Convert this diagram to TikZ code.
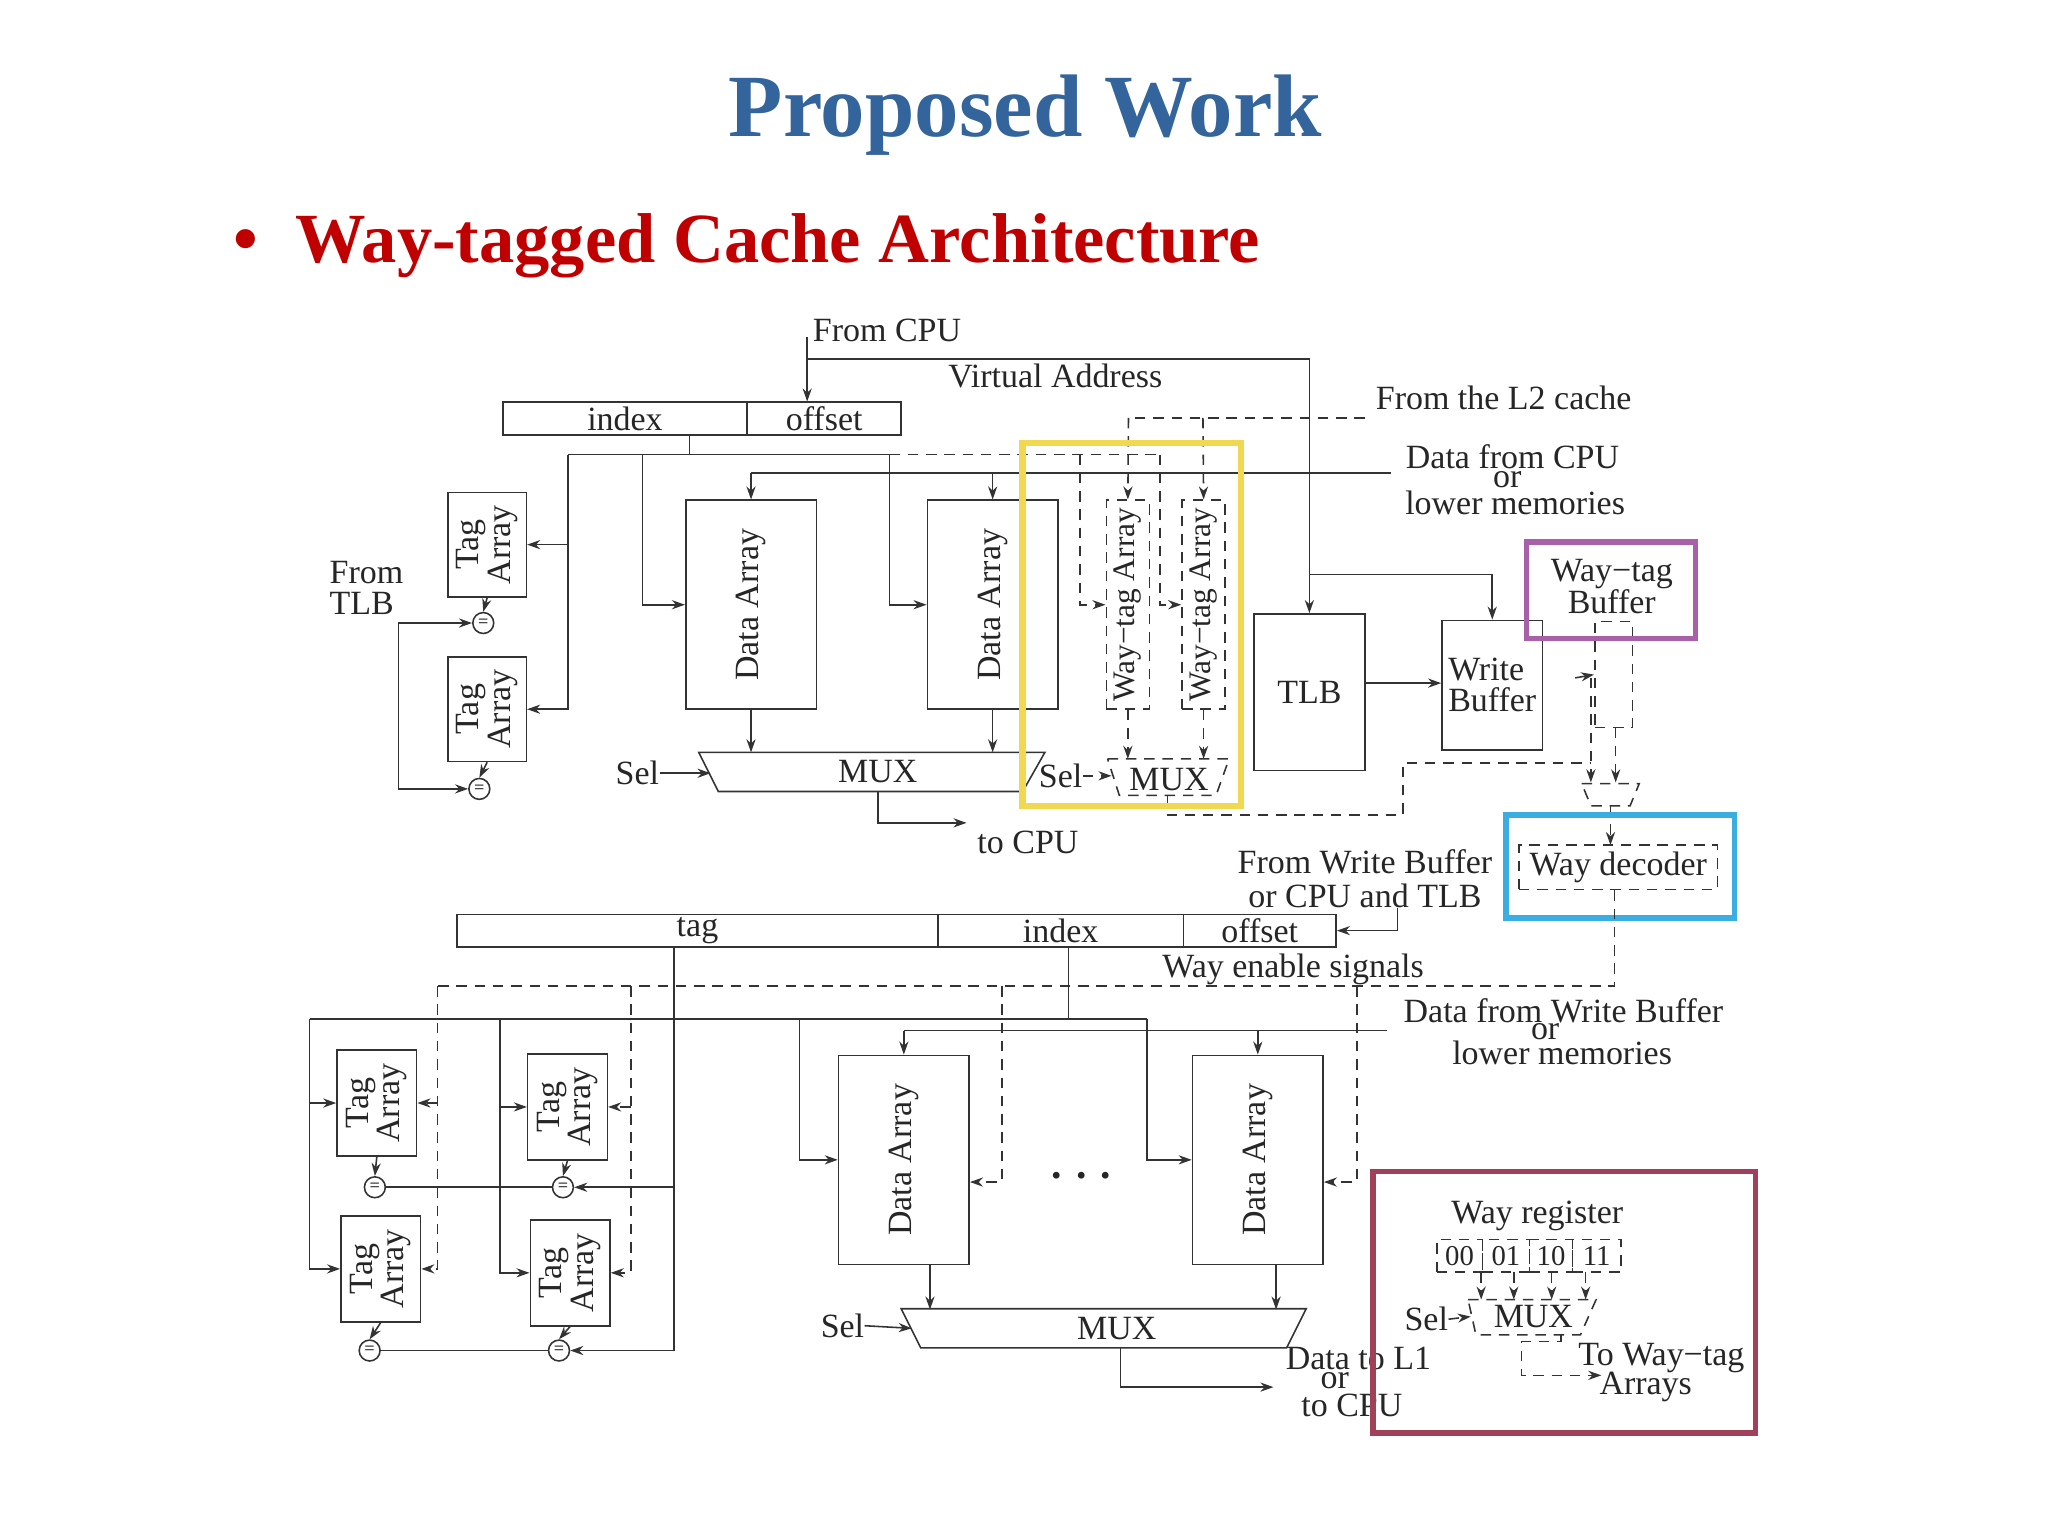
\documentclass[tikz,border=0pt]{standalone}
\usepackage{fontspec}
\setmainfont{Liberation Serif}
\usetikzlibrary{arrows.meta,fit}
\definecolor{ink}{HTML}{333333}
\definecolor{ttl}{HTML}{34649C}
\definecolor{sub}{HTML}{C00000}
\definecolor{ylw}{HTML}{F0D850}
\definecolor{prp}{HTML}{A860A8}
\definecolor{cyn}{HTML}{3AAEE0}
\definecolor{drd}{HTML}{A0405A}
\tikzset{
  ln/.style={draw=ink,line width=0.6pt},
  arr/.style={ln,-{Stealth[length=5pt,width=3.5pt]}},
  dsh/.style={ln,dash pattern=on 4pt off 3pt},
  dsha/.style={dsh,-{Stealth[length=5pt,width=3.5pt]}},
  box/.style={ln,inner sep=0pt},
  dbox/.style={dsh,inner sep=0pt},
  txt/.style={inner sep=0pt,text=black!85,font=\fontsize{13}{13}\selectfont},
  rtxt/.style={txt,rotate=90,align=center,font=\fontsize{13}{12}\selectfont},
  cmp/.style={ln,circle,minimum size=8pt,inner sep=0pt,font=\fontsize{7}{7}\selectfont},
}
\newcommand\RB[6][]{\node[box,fit={(#3)(#4)},#1] (#2) {}; \node[txt,#5] at (#2.center) {#6};}
\newcommand\DB[6][]{\node[dbox,fit={(#3)(#4)},#1] (#2) {}; \node[txt,#5] at (#2.center) {#6};}
\begin{document}
\begin{tikzpicture}[x=0.5pt,y=-0.5pt]
\path[fill=white,use as bounding box] (0,0) rectangle (1568,1176);
% titles
\node[font=\fontsize{34}{34}\selectfont\bfseries,text=ttl] (title) at (785,88) {Proposed Work};
\node[font=\fontsize{27}{27}\selectfont\bfseries,text=sub,anchor=west] (subt) at (172,188) {•\hspace{14pt}Way-tagged Cache Architecture};
% ---------- top half ----------
\RB{idx1}{385,308}{572,333}{}{index}
\RB{off1}{572,308}{690,333}{}{offset}
\node[txt,anchor=west] (fcpu) at (622,253) {From CPU};
\node[txt] (va) at (808,288) {Virtual Address};
\node[txt,anchor=west] (fl2) at (1053,305) {From the L2 cache};
\coordinate (cpu) at (618,258);
\RB{ta1}{343,377}{403,457}{rtxt}{Tag\\Array}
\RB{ta2}{343,503}{403,583}{rtxt}{Tag\\Array}
\node[cmp] (c1) at (370,477) {=};
\node[cmp] (c2) at (367,604) {=};
\node[txt,align=left,anchor=west,font=\fontsize{13}{12}\selectfont] (ftlb) at (252,450) {From\\TLB};
\RB{da1}{525,383}{625,543}{rtxt}{Data Array}
\RB{da2}{710,383}{810,543}{rtxt}{Data Array}
\DB{wt1}{847,383}{880,543}{rtxt,font=\fontsize{12}{12}\selectfont}{Way−tag Array}
\DB{wt2}{905,383}{938,543}{rtxt,font=\fontsize{12}{12}\selectfont}{Way−tag Array}
\RB{tlb}{960,470}{1045,590}{}{TLB}
\RB{wb}{1104,475}{1181,574}{align=left,font=\fontsize{13}{12}\selectfont}{Write\\Buffer}
\node[txt] (d1) at (1158,350) {Data from CPU};
\node[txt] (d2) at (1154,367) {or};
\node[txt] (d3) at (1160,385) {lower memories};
\coordinate (dcpu) at (1065,362);
% address wiring
\draw[arr] (cpu) -- (cpu |- off1.north);
\draw[arr] (618,275) -| (tlb.north);
\draw[arr] (1003,440) -| (wb.north);
\draw[ln] (528,333) -- (528,348);
\draw[ln] (435,348) -- (681,348);
\draw[arr] (435,348) |- (ta1.east);
\draw[arr] (435,400) |- (ta2.east);
\draw[arr] (492,348) |- (da1.west);
\draw[arr] (681,348) |- (da2.west);
\draw[dsh] (681,348) -- (888,348);
\draw[dsha] (888,348) |- (wt2.west);
\draw[dsha] (827,348) |- (wt1.west);
\draw[dsh] (1045,320) -- (864,320);
\draw[dsha] (864,320) -- (wt1.north);
\draw[dsha] (921,320) -- (wt2.north);
\draw[ln] (dcpu) -- (da1.north |- dcpu);
\draw[arr] (da1.north |- dcpu) -- (da1.north);
\draw[arr] (da2.north |- dcpu) -- (da2.north);
% comparators
\draw[arr] (ta1.south) -- (c1.north);
\draw[arr] (ta2.south) -- (c2.north);
\draw[arr] (305,477) -- (c1.west);
\draw[arr] (305,477) |- (c2.west);
% mux 1
\draw[ln] (535,576) -- (800,576) -- (783,606) -- (550,606) -- cycle;
\node[txt] (mux1) at (672,591) {MUX};
\node[txt] (sel1) at (488,592) {Sel};
\draw[arr] (sel1.east) -- (544,592);
\draw[arr] (da1.south) -- (da1.south |- 0,576);
\draw[arr] (da2.south) -- (da2.south |- 0,576);
\draw[arr] (672,606) |- (740,630);
\node[txt] (tocpu) at (787,645) {to CPU};
% mux 2
\draw[dsh] (848,581) -- (941,581) -- (931,609) -- (857,609) -- cycle;
\node[txt] (mux2) at (895,597) {MUX};
\node[txt] (sel2) at (812,594) {Sel};
\draw[dsha] (sel2.east) -- (851,594);
\draw[dsha] (wt1.south) -- (wt1.south |- 0,581);
\draw[dsha] (wt2.south) -- (wt2.south |- 0,581);
\draw[dsh] (894,609) -- (894,624) -- (1074,624) -- (1074,584) -- (1218,584);
\draw[arr] (tlb.east |- 0,523) -- (wb.west |- 0,523);
% way-tag buffer & decoder
\node[txt,align=center,font=\fontsize{13}{12}\selectfont] (wtbt) at (1234,449) {Way−tag\\Buffer};
\DB{wtb}{1221,476}{1250,557}{}{}
\draw[dsha] (1206,519) -- (wtb.west);
\draw[dsha] (1218,519) -- (1218,599);
\draw[dsha] (1237,557) -- (1237,599);
\draw[dsh] (1211,600) -- (1255,600) -- (1248,617) -- (1218,617) -- cycle;
\DB{wd}{1163,647}{1315,681}{}{Way decoder}
\draw[dsha] (1233,617) -- (1233,647);
\draw[prp,line width=2pt] (1169,415) rectangle (1298,489);
\draw[cyn,line width=2.2pt] (1153,624) rectangle (1328,703);
\draw[ylw,line width=2.5pt] (783,339) rectangle (950,617);
% ---------- bottom half ----------
\node[txt] (fwb1) at (1045,660) {From Write Buffer};
\node[txt] (fwb2) at (1045,686) {or CPU and TLB};
\RB{tag2}{350,700}{718,725}{}{tag}
\RB{idx2}{718,700}{906,725}{}{index}
\RB{off2}{906,700}{1023,725}{}{offset}
\draw[arr] (1070,695) |- (off2.east);
\node[txt] (wes) at (990,742) {Way enable signals};
\RB{ta}{258,804}{319,885}{rtxt}{Tag\\Array}
\RB{tb}{404,807}{465,888}{rtxt}{Tag\\Array}
\RB{tc}{261,931}{322,1012}{rtxt}{Tag\\Array}
\RB{td}{406,934}{467,1015}{rtxt}{Tag\\Array}
\node[cmp] (ca) at (287,909) {=};
\node[cmp] (cb) at (431,909) {=};
\node[cmp] (cc) at (283,1034) {=};
\node[cmp] (cd) at (428,1034) {=};
\RB{da3}{642,808}{742,968}{rtxt}{Data Array}
\RB{da4}{913,808}{1013,968}{rtxt}{Data Array}
\node[txt,font=\fontsize{16}{16}\selectfont\bfseries] (dots) at (828,900) {. . .};
% enable signals
\coordinate (dA) at (335,755);
\coordinate (dB) at (483,755);
\coordinate (dC) at (767,755);
\coordinate (dD) at (1039,755);
\draw[dsh] (wd.south -| 1236,0) |- (dA);
\draw[dsha] (dA) |- (tc.east);
\draw[dsha] (ta.east -| dA) -- (ta.east);
\draw[dsha] (dB) |- (td.east);
\draw[dsha] (tb.east -| dB) -- (tb.east);
\draw[dsha] (dC) |- ([yshift=-8.5pt]da3.east);
\draw[dsha] (dD) |- ([yshift=-8.5pt]da4.east);
% tag wiring
\draw[ln] (516,725) -- (516,1034);
\draw[arr] (516,909) -- (cb.east);
\draw[arr] (516,1034) -- (cd.east);
\draw[ln] (cb.west) -- (ca.east);
\draw[ln] (cd.west) -- (cc.east);
\draw[arr] (ta.south) -- (ca.north);
\draw[arr] (tb.south) -- (cb.north);
\draw[arr] (tc.south) -- (cc.north);
\draw[arr] (td.south) -- (cd.north);
% index wiring
\draw[ln] (818,725) -- (818,780);
\draw[ln] (237,780) -- (878,780);
\draw[arr] (237,780) |- (tc.west);
\draw[arr] (ta.west -| 237,0) -- (ta.west);
\draw[arr] (383,780) |- (td.west);
\draw[arr] (tb.west -| 383,0) -- (tb.west);
\draw[arr] (612,780) |- (da3.west);
\draw[arr] (878,780) |- (da4.west);
% data in
\coordinate (dwb) at (1062,789);
\draw[ln] (dwb) -- (da3.north |- dwb);
\draw[arr] (da3.north |- dwb) -- (da3.north);
\draw[arr] (da4.north |- dwb) -- (da4.north);
\node[txt] (e1) at (1197,774) {Data from Write Buffer};
\node[txt] (e2) at (1183,790) {or};
\node[txt] (e3) at (1196,806) {lower memories};
% mux 3
\draw[ln] (690,1002) -- (1000,1002) -- (985,1032) -- (705,1032) -- cycle;
\node[txt] (mux3) at (855,1017) {MUX};
\node[txt] (sel3) at (645,1015) {Sel};
\draw[arr] (sel3.east) -- (698,1017);
\draw[arr] ([xshift=10pt]da3.south) -- ++(0,34);
\draw[arr] ([xshift=7pt]da4.south) -- ++(0,34);
\draw[arr] (858,1032) |- (975,1062);
\node[txt] (o1) at (1040,1040) {Data to L1};
\node[txt] (o2) at (1022,1057) {or};
\node[txt] (o3) at (1035,1076) {to CPU};
% way register
\node[txt] (wrt) at (1177,931) {Way register};
\DB{r0}{1100,949}{1135,974}{font=\fontsize{11}{11}\selectfont}{00}
\DB{r1}{1135,949}{1171,974}{font=\fontsize{11}{11}\selectfont}{01}
\DB{r2}{1171,949}{1204,974}{font=\fontsize{11}{11}\selectfont}{10}
\DB{r3}{1204,949}{1241,974}{font=\fontsize{11}{11}\selectfont}{11}
\draw[dsha] (1134,974) -- (1134,995);
\draw[dsha] (1159,974) -- (1159,995);
\draw[dsha] (1188,974) -- (1188,995);
\draw[dsha] (1214,974) -- (1214,995);
\draw[dsh] (1124,995) -- (1222,995) -- (1210,1022) -- (1130,1022) -- cycle;
\node[txt] (mux4) at (1174,1008) {MUX};
\node[txt] (sel4) at (1092,1010) {Sel};
\draw[dsha] (sel4.east) -- (1126,1008);
\draw[dsha] (1195,1022) -- (1195,1027) -- (1165,1027) -- (1165,1053) -- (1226,1053);
\node[txt] (tw1) at (1272,1040) {To Way−tag};
\node[txt] (tw2) at (1260,1062) {Arrays};
\draw[drd,line width=2.2pt] (1051,897) rectangle (1344,1097);
\end{tikzpicture}
\end{document}
